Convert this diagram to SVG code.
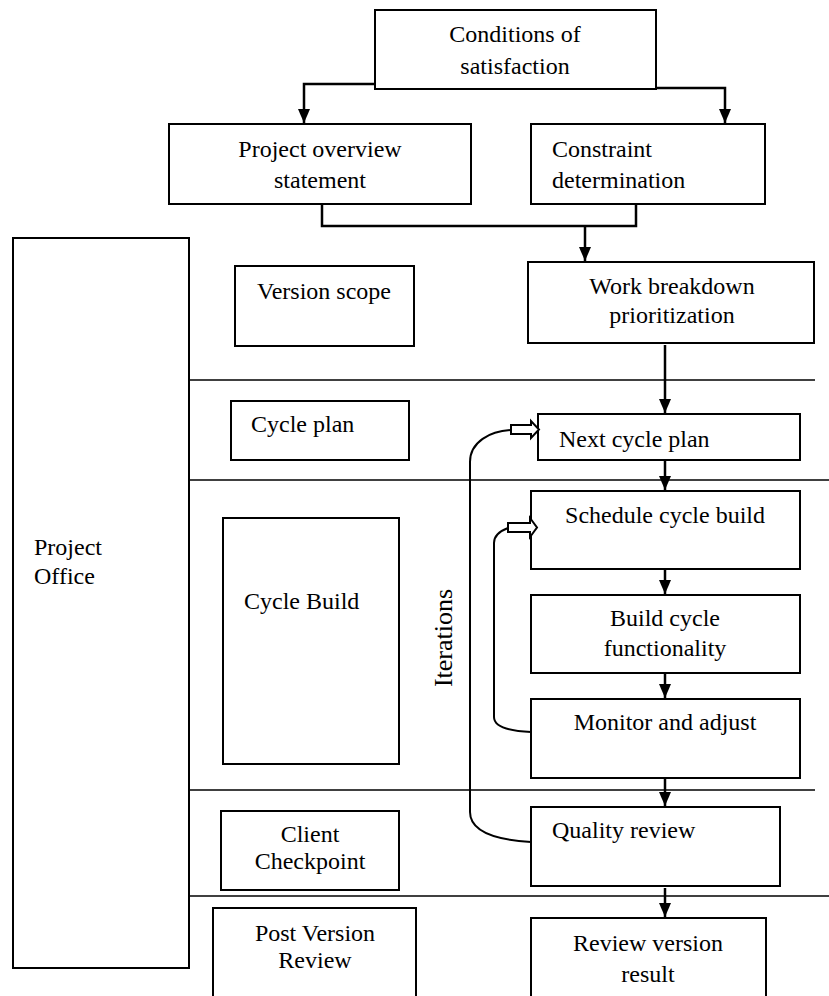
<svg xmlns="http://www.w3.org/2000/svg" width="829" height="996" viewBox="0 0 829 996">
<style>
.box{fill:#fff;stroke:#000;stroke-width:2}
.lane{stroke:#000;stroke-width:1.6;fill:none}
.con{stroke:#000;stroke-width:2.5;fill:none}
.loop{stroke:#000;stroke-width:2;fill:none}
.blk{fill:#fff;stroke:#000;stroke-width:2;stroke-linejoin:miter}
text{font-family:"Liberation Serif","Times New Roman",serif;font-size:24px;fill:#000}
.c{text-anchor:middle}
</style>
<defs>
<marker id="ah" viewBox="0 0 14 12" refX="14" refY="6" markerWidth="14" markerHeight="12" markerUnits="userSpaceOnUse" orient="auto">
<path d="M0,0 L14,6 L0,12 z" fill="#000"/>
</marker>
</defs>
<rect width="829" height="996" fill="#fff"/>
<g id="lanes">
<line class="lane" x1="189" y1="380" x2="815" y2="380"/>
<line class="lane" x1="189" y1="480" x2="829" y2="480"/>
<line class="lane" x1="189" y1="790" x2="815" y2="790"/>
<line class="lane" x1="189" y1="896" x2="829" y2="896"/>
</g>
<g id="conditions"><rect class="box" x="375" y="10" width="281" height="79"/><text class="c" x="515" y="42">Conditions of</text><text class="c" x="515" y="74">satisfaction</text></g>
<g id="overview"><rect class="box" x="169" y="124" width="302" height="80"/><text class="c" x="320" y="157">Project overview</text><text class="c" x="320" y="188">statement</text></g>
<g id="constraint"><rect class="box" x="531" y="124" width="234" height="80"/><text x="552" y="157">Constraint</text><text x="552" y="188">determination</text></g>
<g id="project-office"><rect class="box" x="13" y="238" width="176" height="730"/><text x="34" y="555">Project</text><text x="34" y="584">Office</text></g>
<g id="version-scope"><rect class="box" x="235" y="266" width="179" height="80"/><text x="257" y="299">Version scope</text></g>
<g id="work-breakdown"><rect class="box" x="528" y="262" width="286" height="81"/><text class="c" x="672" y="294">Work breakdown</text><text class="c" x="672" y="323">prioritization</text></g>
<g id="cycle-plan"><rect class="box" x="231" y="401" width="178" height="59"/><text x="251" y="432">Cycle plan</text></g>
<g id="next-cycle-plan"><rect class="box" x="538" y="414" width="262" height="46"/><text x="559" y="447">Next cycle plan</text></g>
<g id="cycle-build"><rect class="box" x="223" y="518" width="176" height="246"/><text x="244" y="609">Cycle Build</text></g>
<g id="schedule"><rect class="box" x="531" y="491" width="269" height="78"/><text class="c" x="665" y="523">Schedule cycle build</text></g>
<g id="build"><rect class="box" x="531" y="595" width="269" height="78"/><text class="c" x="665" y="626">Build cycle</text><text class="c" x="665" y="656">functionality</text></g>
<g id="monitor"><rect class="box" x="531" y="699" width="269" height="79"/><text class="c" x="665" y="730">Monitor and adjust</text></g>
<g id="client-checkpoint"><rect class="box" x="221" y="811" width="178" height="79"/><text class="c" x="310" y="842">Client</text><text class="c" x="310" y="869">Checkpoint</text></g>
<g id="quality"><rect class="box" x="531" y="807" width="249" height="79"/><text x="552" y="838">Quality review</text></g>
<g id="post-version"><rect class="box" x="213" y="908" width="203" height="100"/><text class="c" x="315" y="941">Post Version</text><text class="c" x="315" y="968">Review</text></g>
<g id="review-version"><rect class="box" x="531" y="918" width="235" height="90"/><text class="c" x="648" y="951">Review version</text><text class="c" x="648" y="982">result</text></g>
<g id="iterations-label"><text class="c" style="font-size:26px" transform="translate(452,638) rotate(-90)">Iterations</text></g>
<g id="connectors">
<path class="con" d="M375,84 H304 V123" marker-end="url(#ah)"/>
<path class="con" d="M656,88 H725 V123" marker-end="url(#ah)"/>
<path class="con" d="M322,204 V226 H636 V204"/>
<path class="con" d="M585,226 V261" marker-end="url(#ah)"/>
<path class="con" d="M665,345 V413" marker-end="url(#ah)"/>
<path class="con" d="M665,460 V490" marker-end="url(#ah)"/>
<path class="con" d="M665,569 V594" marker-end="url(#ah)"/>
<path class="con" d="M665,673 V698" marker-end="url(#ah)"/>
<path class="con" d="M665,778 V806" marker-end="url(#ah)"/>
<path class="con" d="M665,888 V917" marker-end="url(#ah)"/>
<path class="loop" d="M531,842 C498,840 470,832 470,812 L470,462 C470,442 490,431 511,430"/>
<polygon class="blk" points="511,425 531,425 531,421 539,429.5 531,438 531,434 511,434"/>
<path class="loop" d="M531,732 C508,731 494,726 494,717 L494,543 C494,536 500,531 508,528"/>
<polygon class="blk" points="508,523 530,523 530,518 537,527.5 530,537 530,532 508,532"/>
</g>
</svg>
